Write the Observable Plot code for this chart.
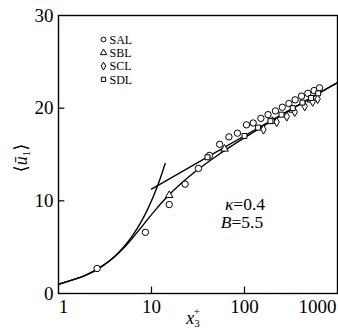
<!DOCTYPE html>
<html>
<head>
<meta charset="utf-8">
<script src="https://cdn.jsdelivr.net/npm/d3@7"></script>
<script src="https://cdn.jsdelivr.net/npm/@observablehq/plot@0.6"></script>
<style>
  html, body { margin: 0; padding: 0; background: white; }
  svg { display: block; }
  svg text { font-family: "Liberation Serif", "DejaVu Serif", serif; }
</style>
</head>
<body>
<div id="chart"></div>
<script>
// ---- data ----
const xTicks = [1, 10, 100, 1000];
const yTicks = [0, 10, 20, 30];

// near-wall composite curve
const curveX = [1.0, 2.0, 3.01, 4.04, 5.12, 6.27, 7.56, 9.08, 10.97, 13.43, 16.78, 21.5, 28.3, 38.3, 52.9, 74.8, 107, 156, 228, 336, 498, 739, 1000];
const curveU = [1, 2, 3, 4, 5, 6, 7, 8, 9, 10, 11, 12, 13, 14, 15, 16, 17, 18, 19, 20, 21, 22, 22.72];

// viscous sublayer line
const linX = [1, 2, 3, 4, 5, 6, 7, 8, 9, 10, 11, 12, 13, 14];
const linU = [1, 2, 3, 4, 5, 6, 7, 8, 9, 10, 11, 12, 13, 14];

// log law line
const logX = [10, 1000];
const logU = [11.26, 22.77];

// measurements
const salX = [2.6, 8.6, 15.5, 23, 32, 42, 54, 68, 84, 105, 124, 150, 179, 215, 255, 300, 350, 410, 480, 560, 640];
const salU = [2.7, 6.6, 9.6, 11.8, 13.5, 14.9, 16.1, 16.9, 17.3, 18.2, 18.4, 18.9, 19.3, 19.7, 20.1, 20.5, 20.9, 21.3, 21.6, 21.9, 22.2];
const sblX = [15.5, 61, 200, 330, 520];
const sblU = [10.6, 15.6, 18.6, 19.8, 20.9];
const sclX = [160, 222, 285, 347, 444, 541, 612];
const sclU = [17.7, 18.5, 19.1, 19.6, 20.2, 20.7, 21.0];
const sdlX = [40, 100, 140, 190, 250, 330, 420, 520, 620];
const sdlU = [14.7, 17.0, 17.9, 18.6, 19.3, 20.0, 20.6, 21.1, 21.6];

const legendNames = ["SAL", "SBL", "SCL", "SDL"];
const legendSymbols = ["circle", "triangle", "diamond", "square"];

const zip = (xs, ys) => xs.map((x, i) => ({x, y: ys[i]}));

const serif = "Liberation Serif";

const legendMarks = legendNames.flatMap((name, i) => [
  Plot.dot([name], {frameAnchor: "top-left", dx: 45, dy: 24 + 13.3 * i, symbol: legendSymbols[i], r: 2.4, stroke: "black", strokeWidth: 1, fill: "white"}),
  Plot.text([name], {frameAnchor: "top-left", dx: 51, dy: 24.5 + 13.3 * i, text: d => d, textAnchor: "start", lineAnchor: "middle", fontSize: 12, fontFamily: serif, fill: "black"})
]);

const chart = Plot.plot({
  width: 338,
  height: 332,
  marginLeft: 58,
  marginRight: 1,
  marginTop: 15,
  marginBottom: 39,
  style: {fontFamily: serif, background: "white", color: "black"},
  x: {type: "log", domain: [1, 1000], axis: null},
  y: {domain: [0, 30], axis: null},
  marks: [
    Plot.frame({stroke: "black", strokeWidth: 1.4}),
    Plot.ruleX([10, 100], {y1: 0, y2: 0.7, stroke: "black", strokeWidth: 1.2}),
    Plot.ruleY([10, 20], {x1: 1, x2: 1.17, stroke: "black", strokeWidth: 1.2}),
    Plot.text(yTicks, {x: 1, y: d => d, text: d => String(d), textAnchor: "end", lineAnchor: "middle", dx: -5, fontSize: 19, fontFamily: serif, fill: "black"}),
    Plot.text(xTicks.slice(0, 1), {x: d => d, y: 0, text: d => String(d), lineAnchor: "middle", dx: 5, dy: 13, fontSize: 19, fontFamily: serif, fill: "black"}),
    Plot.text(xTicks.slice(1, 3), {x: d => d, y: 0, text: d => String(d), lineAnchor: "middle", dy: 13, fontSize: 19, fontFamily: serif, fill: "black"}),
    Plot.text(xTicks.slice(3), {x: d => d, y: 0, text: d => String(d), textAnchor: "end", lineAnchor: "middle", dx: -1, dy: 13, fontSize: 19, fontFamily: serif, fill: "black"}),
    Plot.line(zip(curveX, curveU), {x: "x", y: "y", stroke: "black", strokeWidth: 1.4, curve: "catmull-rom"}),
    Plot.line(zip(linX, linU), {x: "x", y: "y", stroke: "black", strokeWidth: 1.4, curve: "catmull-rom"}),
    Plot.line(zip(logX, logU), {x: "x", y: "y", stroke: "black", strokeWidth: 1.4}),
    Plot.dot(zip(salX, salU), {x: "x", y: "y", symbol: "circle", r: 3.2, stroke: "black", strokeWidth: 1, fill: "white"}),
    Plot.dot(zip(sblX, sblU), {x: "x", y: "y", symbol: "triangle", r: 2.8, stroke: "black", strokeWidth: 1, fill: "white"}),
    Plot.dot(zip(sclX, sclU), {x: "x", y: "y", symbol: "diamond", r: 2.8, stroke: "black", strokeWidth: 1, fill: "white"}),
    Plot.dot(zip(sdlX, sdlU), {x: "x", y: "y", symbol: "square", r: 2.8, stroke: "black", strokeWidth: 1, fill: "white"}),
    ...legendMarks
  ]
});

document.getElementById("chart").appendChild(chart);

// styled labels (mixed italic / sub / superscripts)
const svg = d3.select(chart);
// x axis label  x3+
const xl = svg.append("text").attr("x", 193).attr("y", 324).attr("font-family", serif).attr("font-size", 18).attr("fill", "black");
xl.append("tspan").attr("font-style", "italic").text("x");
xl.append("tspan").attr("font-size", 11).attr("dy", 3).text("3");
xl.append("tspan").attr("font-size", 11).attr("dx", -6).attr("dy", -12).text("+");

// y axis label <u1>
const yl = svg.append("text").attr("transform", "translate(27,158) rotate(-90)").attr("text-anchor", "middle").attr("font-family", serif).attr("font-size", 18).attr("fill", "black");
yl.append("tspan").text("\u27E8");
yl.append("tspan").attr("font-style", "italic").text("\u016B");
yl.append("tspan").attr("font-size", 11).attr("dy", 3).text("1");
yl.append("tspan").attr("dy", -3).text("\u27E9");

// annotation
const a1 = svg.append("text").attr("x", 245).attr("y", 210).attr("font-family", serif).attr("font-size", 17.5).attr("fill", "black");
a1.append("tspan").attr("font-style", "italic").text("\u03BA");
a1.append("tspan").text("=0.4");
const a2 = svg.append("text").attr("x", 242).attr("y", 228).attr("font-family", serif).attr("font-size", 17.5).attr("fill", "black");
a2.append("tspan").attr("font-style", "italic").text("B");
a2.append("tspan").text("=5.5");
</script>
</body>
</html>
